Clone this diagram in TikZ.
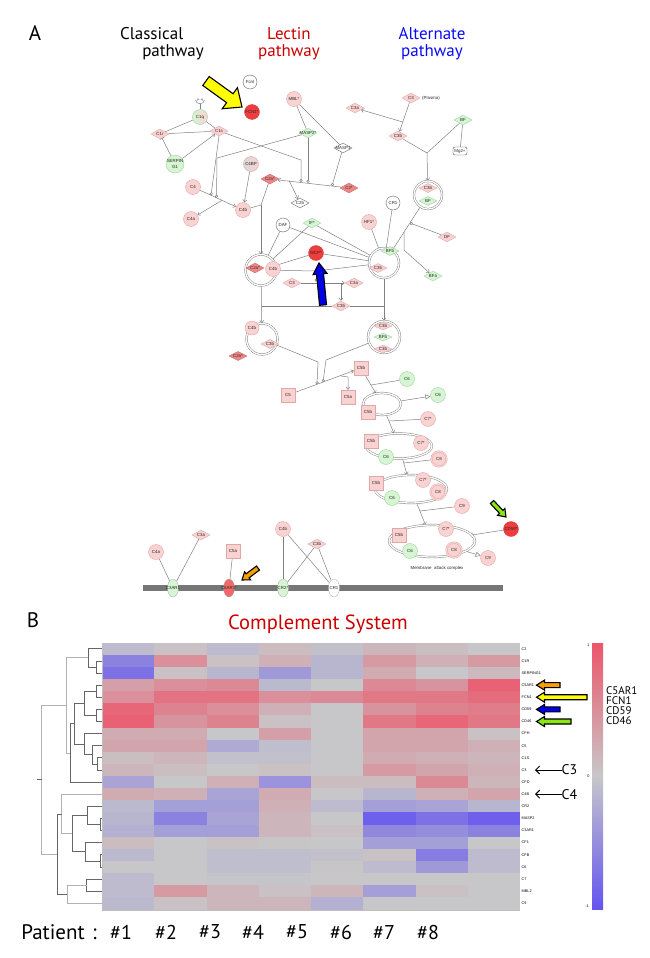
\documentclass[tikz,border=0pt]{standalone}
\usepackage{fontspec}
\setmainfont{Liberation Sans}
\newfontfamily\myr{PT Sans}
\usetikzlibrary{shapes.geometric,arrows.meta,backgrounds}

\definecolor{pinkf}{RGB}{250,210,210}
\definecolor{pinkd}{RGB}{222,168,168}
\definecolor{greenf}{RGB}{214,245,210}
\definecolor{greend}{RGB}{160,210,160}
\definecolor{redf}{RGB}{240,60,60}
\definecolor{redd}{RGB}{240,135,135}
\definecolor{hmred}{RGB}{236,86,106}
\definecolor{hmblue}{RGB}{100,84,240}
\definecolor{hmgrey}{RGB}{199,199,201}
\definecolor{ttlred}{RGB}{204,0,0}
\definecolor{ttlblue}{RGB}{10,10,245}
\definecolor{yel}{RGB}{255,255,0}
\definecolor{orng}{RGB}{245,160,0}
\definecolor{lgrn}{RGB}{140,230,20}
\definecolor{arblue}{RGB}{0,0,230}
\definecolor{memgrey}{RGB}{118,118,118}
\definecolor{c5arc}{RGB}{240,105,105}

\newcommand{\tf}{\fontsize{4.4}{4.8}\selectfont}
\newcommand{\zt}[1]{\makebox[0pt]{#1}}
\newcommand{\blkarrow}[8]{%
  \pgfmathsetmacro{\bkang}{atan2(-((#4)-(#2)),(#3)-(#1))}%
  \pgfmathsetmacro{\bklen}{veclen((#3)-(#1),(#4)-(#2))}%
  \pgfmathsetmacro{\bkneck}{\bklen-(#7)}%
  \begin{scope}[shift={(#1,#2)},rotate=\bkang]
    \filldraw[fill=#8,draw=black,line width=1.1pt,line join=miter,miter limit=4]
      (0,{-(#5)/2}) -- (\bkneck,{-(#5)/2}) -- (\bkneck,{-(#6)/2}) -- (\bklen,0)
      -- (\bkneck,{(#6)/2}) -- (\bkneck,{(#5)/2}) -- (0,{(#5)/2}) -- cycle;
  \end{scope}}
\newcommand{\dg}[6]{\draw[#6] (#4,#2) -- (#1,#2) -- (#1,#3) -- (#5,#3);}

\tikzset{
 nd/.style={inner sep=0pt, font=\tf, text=black!85},
 pc/.style={nd, circle, minimum size=15pt, fill=pinkf, draw=pinkd, line width=0.4pt},
 gc/.style={nd, circle, minimum size=15pt, fill=greenf, draw=greend, line width=0.4pt},
 wc/.style={nd, circle, minimum size=14pt, fill=white, draw=black!60, line width=0.4pt},
 rc/.style={nd, circle, minimum size=15pt, fill=redf, draw=redf!85!black, line width=0.3pt},
 pd/.style={nd, diamond, minimum width=18pt, minimum height=10pt, fill=pinkf, draw=pinkd, line width=0.4pt},
 rdm/.style={pd, fill=redd, draw=redd!80!black},
 gd/.style={pd, fill=greenf, draw=greend},
 wd/.style={pd, fill=white, draw=black!60},
 psq/.style={nd, rectangle, minimum size=14pt, fill=pinkf, draw=pinkd, line width=0.4pt},
 pcd/.style={pc, draw=pinkd, double=pinkf, double distance=1.2pt},
 cx/.style={circle, inner sep=0pt, draw=black!50, double=white, double distance=1.3pt, line width=0.45pt},
 ringe/.style={ellipse, inner sep=0pt, draw=black!50, double=white, double distance=1.3pt, line width=0.45pt},
 recep/.style={nd, ellipse, minimum width=11pt, minimum height=18pt, draw=black!35, line width=0.3pt},
 ln/.style={draw=black!50, line width=0.5pt},
 arr/.style={-{Straight Barb[length=2.5pt,width=4pt]}},
 inh/.style={-{Bar[width=5pt]}},
 catl/.style={-{Circle[open,length=3pt,width=3pt]}},
 oarr/.style={-{Triangle[open,length=5pt,width=5pt]}},
 dd/.style={draw=black!60, line width=0.7pt},
 dl/.style={draw=black!30, line width=1pt},
 big/.style={font=\myr\fontsize{#1}{#1}\selectfont, inner sep=0pt},
 gl/.style={font=\fontsize{3.8}{4}\selectfont, inner sep=0pt, anchor=west},
}

\begin{document}
\begin{tikzpicture}[x=1pt,y=-1pt]
\useasboundingbox (0,0) rectangle (650,958);

% ---------------- Part A titles
\node[big=21] (labA) at (35,33) {A};
\node[big=17, align=left] (tcl) at (162,44) {Classical\\\hspace*{1.3em}pathway};
\node[big=17, align=center, text=ttlred] (tle) at (289,44) {Lectin\\pathway};
\node[big=17, align=center, text=ttlblue] (tal) at (432,44) {Alternate\\pathway};

% ---------------- Part A nodes
\node[wc] (fcnl) at (250,82) {\zt{Fcnl}};
\node[rc] (fcn1) at (252,112) {\zt{FCN1*}};
\node[gc, left color=greenf, right color=pinkf] (c1q) at (200,117) {\zt{C1q}};
\node[pd] (c1r) at (160,134) {\zt{C1r}};
\node[pd] (c1s) at (219,131) {\zt{C1s}};
\node[gc, minimum size=18pt] (serp) at (175,164) {\zt{\shortstack{SERPIN\\G1}}};
\node[pc] (mbl) at (294,99) {\zt{MBL*}};
\node[gd] (masp2) at (308,133) {\zt{MASP2*}};
\node[wd] (masp1) at (343,148) {\zt{MASP1}};
\node[pc, left color=black!15, right color=pinkf] (c4bp) at (251,164) {\zt{C4BP}};
\node[pc] (c4) at (193,187) {\zt{C4}};
\node[pc] (c4a) at (191,219) {\zt{C4a}};
\node[pc] (c4b) at (243,210) {\zt{C4b}};
\node[rdm] (c2as) at (270,179) {\zt{C2a*}};
\node[wd] (c2b) at (300,203) {\zt{C2b}};
\node[rdm] (c2s) at (349,188) {\zt{C2*}};
\node[pd] (c3a) at (355,108) {\zt{C3a}};
\node[pd] (c3p) at (411,98) {\zt{C3}};
\node[nd, anchor=west] (plasma) at (422,98) {(Plasma)};
\node[pd] (c3bp) at (398,136) {\zt{C3b}};
\node[gd] (bf) at (463,120) {\zt{BF}};
\node[nd, draw=black!70, rounded corners=2pt, minimum width=14pt, minimum height=8pt] (mg) at (460,151) {\zt{Mg2+}};
\node[wc] (cr1t) at (393,203) {\zt{CR1}};
\node[pc] (hf1) at (369,222) {\zt{HF1*}};
\node[pd] (df) at (447,237) {\zt{DF}};
\node[wc] (daf) at (283,225) {\zt{DAF}};
\node[gd] (if) at (312,223) {\zt{IF*}};
\node[rc] (mcp) at (316,253) {\zt{MCP*}};
\node[gd] (bfa) at (433,276) {\zt{BFa}};

% complexes
\node[cx, minimum size=28pt] (cxA) at (428,195) {};
\node[pd, minimum height=9pt] (c3bA) at (428,188) {\zt{C3b}};
\node[gd, minimum height=9pt] (bfA) at (428,201) {\zt{BF}};

\node[cx, minimum size=31pt] (cx1) at (261,270) {};
\node[rdm] (c2a1) at (255,268) {\zt{C2a*}};
\node[pc] (c4b1) at (273,269) {\zt{C4b}};

\node[cx, minimum size=30pt] (cx2) at (384,263) {};
\node[gd, minimum height=9pt] (bfb2) at (390,251) {\zt{BFb}};
\node[pd, minimum height=9pt] (c3b2) at (378,268) {\zt{C3b}};

\node[pd] (c3r) at (292,283) {\zt{C3}};
\node[pd] (c3ar) at (354,283) {\zt{C3a}};
\node[pd] (c3br) at (341,306) {\zt{C3b}};

\node[cx, minimum size=31pt] (cx3) at (262,339) {};
\node[pc, minimum size=14pt] (c4b3) at (252,328) {\zt{C4b}};
\node[pd, minimum height=9pt] (c3b3) at (270,344) {\zt{C3b}};
\node[rdm, minimum height=9pt] (c2a3) at (238,356) {\zt{C2a*}};

\node[cx, minimum size=32pt] (cx4) at (384,337) {};
\node[pd, minimum height=8pt] (c3b4a) at (383,326) {\zt{C3b}};
\node[gd, minimum height=8pt] (bfb4) at (383,337) {\zt{BFb}};
\node[pd, minimum height=8pt] (c3b4b) at (383,349) {\zt{C3b}};

% C5 and MAC
\node[psq] (c5b0) at (361,368) {\zt{C5b}};
\node[psq] (c5) at (288,395) {\zt{C5}};
\node[psq] (c5a) at (348,397) {\zt{C5a}};
\node[gc] (c6a) at (407,379) {\zt{C6}};

\node[ringe, minimum width=38pt, minimum height=22pt] (ring1) at (382,404) {};
\node[psq] (c5b1) at (368,412) {\zt{C5b}};
\node[gc] (c6b) at (438,395) {\zt{C6}};
\node[pc] (c7a) at (428,419) {\zt{C7*}};

\node[ringe, minimum width=66pt, minimum height=25pt] (ring2) at (399,446) {};
\node[psq] (c5b2) at (371,441) {\zt{C5b}};
\node[pc] (c7b) at (421,443) {\zt{C7*}};
\node[gc] (c6c) at (386,457) {\zt{C6}};
\node[pcd] (c8a) at (439,459) {\zt{C8}};

\node[ringe, minimum width=72pt, minimum height=28pt] (ring3) at (411,489) {};
\node[psq] (c5b3) at (376,483) {\zt{C5b}};
\node[pc] (c7c) at (423,480) {\zt{C7*}};
\node[pcd] (c8b) at (438,492) {\zt{C8}};
\node[gc] (c6d) at (392,498) {\zt{C6}};
\node[pc] (c9a) at (462,506) {\zt{C9}};

\node[ringe, minimum width=86pt, minimum height=32pt] (ring4) at (432,541) {};
\node[psq] (c5b4) at (399,535) {\zt{C5b}};
\node[pc] (c7d) at (446,529) {\zt{C7*}};
\node[gc] (c6e) at (410,551) {\zt{C6}};
\node[pcd] (c8c) at (454,550) {\zt{C8}};
\node[pc] (c9b) at (488,558) {\zt{C9}};
\node[rc] (cd59) at (511,529) {\zt{CD59*}};
\node[nd] (mac) at (437,568) {Membrane\ \ attack complex};

% membrane
\node[fill=memgrey, minimum width=360pt, minimum height=6pt, inner sep=0pt] (mem) at (323,588) {};
\node[recep, fill=greenf] (c3ar1) at (173,588) {\zt{C3AR1}};
\node[recep, fill=c5arc] (c5ar1) at (229,588) {\zt{C5AR1*}};
\node[recep, fill=greenf] (cr2) at (283,588) {\zt{CR2*}};
\node[recep, fill=white] (cr1m) at (334,588) {\zt{CR1}};
\node[pc] (c4am) at (156,552) {\zt{C4a}};
\node[pd] (c3am) at (201,535) {\zt{C3a}};
\node[psq] (c5am) at (233,551) {\zt{C5a}};
\node[pc] (c4bm) at (283,529) {\zt{C4b}};
\node[pd] (c3bm) at (317,544) {\zt{C3b}};

% ---------------- Part A connectors
\begin{scope}[on background layer]
\draw[ln] (c1q.north) -- ++(0,-5) coordinate (psi);
\draw[ln] (195.5,100) .. controls (196,105) and (204,105) .. (204.5,100);
\draw[ln] (197,101) .. controls (197,98) and (199,98) .. (199,100);
\draw[ln] (201,100) .. controls (201,98) and (203,98) .. (203,101);
\draw[ln] (c1q) -- (c1r);
\draw[ln] (c1q) -- (c1s);
\draw[ln] (c1r) -- (c1s);
\draw[ln,inh] (serp) -- (c1r);
\draw[ln,arr] (serp) -- (c1s);
% C2 cleavage
\coordinate (kc1s) at (301,160);
\coordinate (pC2a) at (301,181.9);
\coordinate (pC2b) at (308,182.8);
\coordinate (pC2c) at (332,186);
\coordinate (jC2) at (289,180.5);
\draw[ln,catl] (c1s) -- (kc1s) -- (pC2a);
\draw[ln,catl] (masp2) -- (pC2b);
\draw[ln,catl] (masp1) -- (pC2c);
\draw[ln,arr] (c2s) -- (c2as);
\draw[ln,arr] (jC2) -- (c2b);
% C4 cleavage
\coordinate (pC4a) at (211,195.3);
\coordinate (pC4b) at (216.5,197.8);
\coordinate (kM2) at (217,158);
\coordinate (jC4) at (222,200.3);
\draw[ln,arr] (c4) -- (c4b);
\draw[ln,arr] (jC4) -- (c4a);
\draw[ln,catl] (c1s.south) -- (pC4a);
\draw[ln,catl] (masp2) -- (kM2) -- (pC4b);
\draw[ln,arr] (c4bp) -- (c4b);
\coordinate (jC4b) at (261,205);
\draw[ln] (c4b) -- (jC4b);
\draw[ln] (c2as) -- (jC4b);
\draw[ln,arr] (jC4b) -- (cx1);
% lectin
\draw[ln] (mbl) -- (masp2);
\draw[ln] (mbl) -- (masp1);
% alternative
\coordinate (jC3) at (402.8,122);
\draw[ln,arr] (c3p) -- (c3bp);
\draw[ln,arr] (jC3) -- (c3a);
\coordinate (jBF) at (427,153);
\draw[ln] (c3bp) -- (jBF);
\draw[ln] (bf) -- (jBF);
\draw[ln,arr] (jBF) -- (cxA);
\draw[ln] (bf) -- (mg);
\draw[ln,arr] (cxA) -- (cx2);
\coordinate (pDF) at (410,223);
\draw[ln,catl] (df) -- (pDF);
\coordinate (jBFa) at (404,232);
\coordinate (kBFa) at (404,250);
\draw[ln,arr] (jBFa) -- (kBFa) -- (bfa);
% regulators
\draw[ln,inh] (daf) -- (cx1);
\draw[ln,inh] (if) -- (cx1);
\draw[ln,inh] (mcp) -- (cx1);
\draw[ln,inh] (daf) -- (cx2);
\draw[ln,inh] (if) -- (cx2);
\draw[ln,inh] (mcp) -- (cx2);
\draw[ln,inh] (hf1) -- (cx2);
\draw[ln,inh] (cr1t) -- (cx2);
% C3 cleavage
\draw[ln,arr] (c3r) -- (c3ar);
\coordinate (jC3r) at (341,283);
\draw[ln,arr] (jC3r) -- (c3br);
\coordinate (kC3) at (316,271);
\coordinate (pC3) at (316,281.5);
\draw[ln] (cx1) -- (kC3);
\draw[ln] (cx2) -- (kC3);
\draw[ln,catl] (kC3) -- (pC3);
\coordinate (jL) at (261.5,306);
\coordinate (jR) at (384,306);
\draw[ln] (c3br) -- (jL);
\draw[ln] (c3br) -- (jR);
\draw[ln] (cx1) -- (jL);
\draw[ln,arr] (jL) -- (cx3);
\draw[ln] (cx2) -- (jR);
\draw[ln,arr] (jR) -- (cx4);
% C5 cleavage
\draw[ln,arr] (c5) -- (c5b0);
\coordinate (kC5a) at (318,362);
\coordinate (pC5a) at (317,384.3);
\coordinate (kC5b) at (326,360);
\coordinate (pC5b) at (323,382);
\draw[ln,catl] (cx3) -- (kC5a) -- (pC5a);
\draw[ln,catl] (cx4) -- (kC5b) -- (pC5b);
\coordinate (jC5) at (340,375.8);
\coordinate (kC5) at (348,377);
\draw[ln,arr] (jC5) -- (kC5) -- (c5a);
% MAC
\coordinate (jM1) at (371,385);
\coordinate (jM2) at (389,421);
\coordinate (jM3) at (404,463);
\coordinate (jM4) at (420,511);
\draw[ln,arr] (c5b0) -- (ring1);
\draw[ln] (c6a) -- (jM1);
\draw[ln,oarr] (ring1) -- (c6b);
\draw[ln,arr] (ring1) -- (ring2);
\draw[ln] (c7a) -- (jM2);
\draw[ln,arr] (ring2) -- (ring3);
\draw[ln] (c8a) -- (jM3);
\draw[ln,arr] (ring3) -- (ring4);
\draw[ln] (c9a) -- (jM4);
\draw[ln,oarr] (ring4) -- (c9b);
\draw[ln,inh] (cd59) -- (ring4);
% membrane receptors
\draw[ln] (c4am) -- (c3ar1);
\draw[ln] (c3am) -- (c3ar1);
\draw[ln] (c5am) -- (c5ar1);
\draw[ln] (c4bm) -- (cr2);
\draw[ln] (c4bm) -- (cr1m);
\draw[ln] (c3bm) -- (cr2);
\draw[ln] (c3bm) -- (cr1m);
\end{scope}

% block arrows part A
\blkarrow{206}{81}{242}{107}{11}{26}{15}{yel}
\blkarrow{323}{305}{319}{263}{7}{14}{11}{arblue}
\blkarrow{492}{502}{506}{517}{4.5}{10}{7}{lgrn}
\blkarrow{258}{568}{242}{580}{5}{10}{7}{orng}

% ---------------- Part B
\node[big=21] (labB) at (33,620) {B};
\node[big=20.5, text=ttlred] (tcs) at (318,624) {Complement System};

% heatmap
\foreach \r/\vals in {
 1/{-0.1,0.05,-0.1,0.1,-0.05,0.15,0.08,0},
 2/{-0.6,0.5,0.05,0.2,-0.15,0.4,0.2,0.4},
 3/{-0.75,0.05,-0.15,-0.4,-0.15,0.25,0,0.12},
 4/{0.35,0.5,0.55,-0.12,0,0.55,0.45,0.9},
 5/{0.5,0.75,0.75,0.5,0.55,0.7,0.7,0.8},
 6/{0.85,0.6,0.5,0.2,0,0.45,0.6,0.65},
 7/{0.9,0.45,0.6,0.05,0,0.7,0.85,0.7},
 8/{0.25,0.25,0,0.35,0,0.3,0.3,0.05},
 9/{0.3,0.3,-0.25,-0.08,0,0.3,0.3,0.2},
 10/{0.08,0.15,-0.05,-0.05,0,0.25,0.2,0.15},
 11/{0.15,0.08,0,0.05,0,0.4,0.3,0.2},
 12/{-0.3,0,0.2,-0.45,0.1,0.1,0.55,0.15},
 13/{0.25,0.2,-0.3,0.25,0,-0.15,0.2,0.3},
 14/{-0.12,-0.35,-0.35,0.2,-0.1,-0.35,-0.3,-0.15},
 15/{-0.15,-0.6,-0.3,0.15,0,-0.9,-0.75,-0.9},
 16/{-0.2,-0.35,-0.35,0.15,0.05,-0.55,-0.5,-0.6},
 17/{0.1,0,0.05,0.02,0,-0.35,-0.35,0},
 18/{-0.12,0,-0.08,-0.08,-0.05,0.05,-0.65,-0.1},
 19/{0,0,-0.08,-0.08,0.02,-0.1,-0.4,-0.1},
 20/{-0.1,0,-0.03,-0.03,0,0,0,0},
 21/{-0.1,0.4,0.15,0.05,0.15,-0.35,0.05,0},
 22/{-0.12,0.05,0.15,0.15,-0.2,0,0,0}} {
  \foreach \v [count=\c] in \vals {
    \pgfmathsetmacro\pr{max(0,\v)*100}
    \pgfmathsetmacro\pb{max(0,-\v)*100}
    \colorlet{tmpc}{hmblue!\pb!hmgrey}
    \colorlet{cellc}{hmred!\pr!tmpc}
    \fill[cellc] ({102+(\c-1)*52.25},{642.7+(\r-1)*12.12}) rectangle ({102+\c*52.25+0.3},{642.7+\r*12.12+0.3});
  }
}
\draw[black!25, line width=0.8pt] (102,642.7) -- (102,910.5) -- (520,910.5);

% gene labels
\foreach \g [count=\k] in {C2,C1R,SERPING1,C5AR1,FCN1,CD59,CD46,CFH,C5,C1S,C3,CFD,C4B,CR2,MASP2,C3AR1,CF1,CFB,C6,C7,MBL2,C9}
  \node[gl] (g\k) at (521.5,{642.7+(\k-0.5)*12.12}) {\g};

% dendrogram
\dg{96.7}{660.9}{673.0}{102}{102}{dd}
\dg{88.3}{648.8}{667.0}{102}{96.7}{dd}
\dg{96.7}{685.1}{697.2}{102}{102}{dd}
\dg{96.7}{709.4}{721.5}{102}{102}{dd}
\dg{84.3}{691.2}{715.4}{96.7}{96.7}{dd}
\dg{97.7}{757.8}{770.0}{102}{102}{dd}
\dg{92.3}{745.7}{763.9}{102}{97.7}{dd}
\dg{84.3}{733.6}{754.8}{102}{92.3}{dd}
\dg{74}{703.3}{744.2}{84.3}{84.3}{dd}
\dg{70}{723.8}{782.1}{74}{102}{dd}
\dg{66.7}{657.9}{753}{88.3}{70}{dl}
\dg{100}{818.4}{830.5}{102}{102}{dd}
\dg{87.3}{806.3}{824.5}{102}{100}{dd}
\dg{100}{854.8}{866.9}{102}{102}{dd}
\dg{85.7}{842.7}{860.9}{102}{100}{dd}
\dg{72.3}{815.4}{851.8}{87.3}{85.7}{dd}
\dg{61.7}{794.2}{833.6}{102}{72.3}{dl}
\dg{86.7}{879.0}{891.1}{102}{102}{dd}
\dg{67.3}{885.1}{903.3}{86.7}{102}{dl}
\dg{57.3}{813.9}{894.2}{61.7}{67.3}{dd}
\dg{41.7}{705.4}{854}{66.7}{57.3}{dl}
\draw[dd] (37,779.7) -- (41.7,779.7);

% colour bar
\shade[top color=hmred, bottom color=hmblue, middle color=hmgrey] (592,643) rectangle (603,909);
\node[font=\fontsize{3.8}{4}\selectfont, inner sep=0pt] (cb1) at (588.5,645) {1};
\node[font=\fontsize{3.8}{4}\selectfont, inner sep=0pt] (cb0) at (588.5,776.5) {0};
\node[font=\fontsize{3.8}{4}\selectfont, inner sep=0pt] (cbm) at (587,906) {-1};

% arrows on genes
\blkarrow{560}{685.1}{536.5}{685.1}{5}{10}{8}{orng}
\blkarrow{587}{697.2}{536.5}{697.2}{5}{10}{8}{yel}
\blkarrow{560}{709.4}{536.5}{709.4}{5}{10}{8}{arblue}
\blkarrow{571}{721.5}{536.5}{721.5}{5}{10}{8}{lgrn}
\node[big=11, anchor=west, align=left] (rlab) at (606,705.5) {C5AR1\\[-1.2pt]FCN1\\[-1.2pt]CD59\\[-1.2pt]CD46};

\coordinate (aC3) at (535,770);
\coordinate (aC4) at (535,794.2);
\node[big=14, anchor=west] (tC3) at (561.5,770) {C3};
\node[big=14, anchor=west] (tC4) at (561.5,794.2) {C4};
\draw[line width=1pt, -{Straight Barb[length=4pt,width=8pt]}] (tC3.west) -- (aC3);
\draw[line width=1pt, -{Straight Barb[length=4pt,width=8pt]}] (tC4.west) -- (aC4);

% patients
\node[big=21] (pat) at (59,932) {Patient\hspace{0.35em}:};
\foreach \x [count=\k] in {121,166,210,253,297,341,384,428}
  \node[big=20] (p\k) at (\x,932) {\#\k};
\end{tikzpicture}
\end{document}
